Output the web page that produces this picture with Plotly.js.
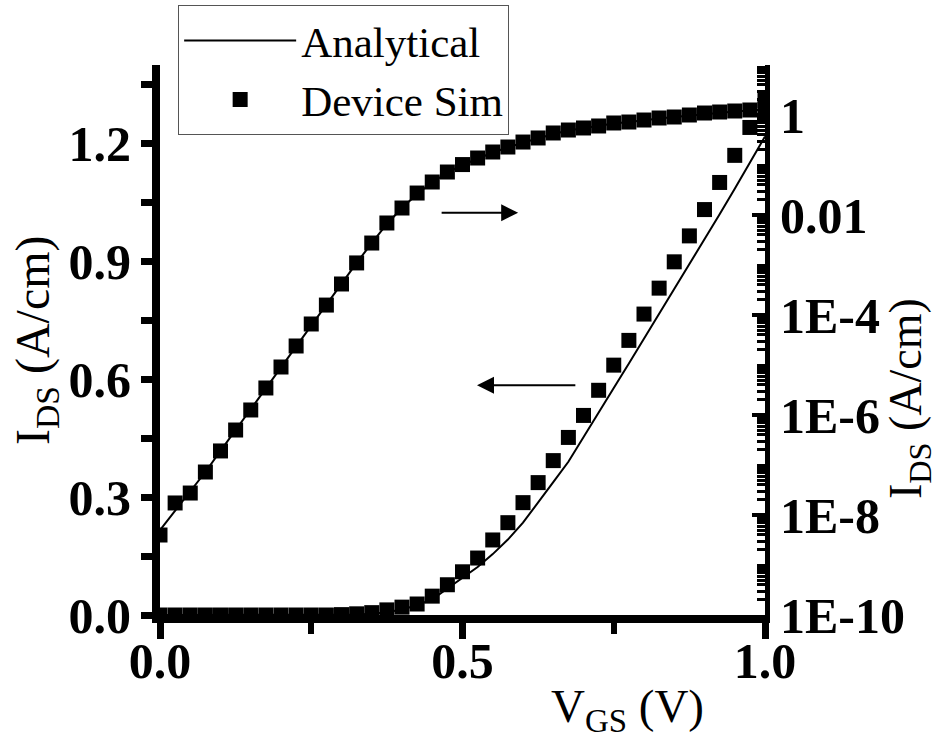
<!DOCTYPE html>
<html>
<head>
<meta charset="utf-8">
<script src="https://cdn.plot.ly/plotly-3.0.1.min.js"></script>
<style>html,body{margin:0;padding:0;background:#fff;}</style>
</head>
<body>
<div id="chart" style="width:937px;height:740px;"></div>
<script>
// Gate voltage (V)
const vgs = [0,0.025,0.05,0.075,0.1,0.125,0.15,0.175,0.2,0.225,0.25,0.275,0.3,0.325,0.35,0.375,0.4,0.425,0.45,0.475,0.5,0.525,0.55,0.575,0.6,0.625,0.65,0.675,0.7,0.725,0.75,0.775,0.8,0.825,0.85,0.875,0.9,0.925,0.95,0.975,1.0];

// Device simulation, linear scale (A/cm) - left axis
const simLin = [0,0,0,0,0,0,0,0,0,0,0,0,0.001,0.003,0.006,0.013,0.02,0.028,0.048,0.077,0.110,0.145,0.191,0.235,0.286,0.337,0.393,0.452,0.508,0.572,0.636,0.699,0.766,0.832,0.899,0.965,1.032,1.101,1.170,1.241,1.31];

// Analytical, linear scale (A/cm) - left axis
const anaLin = [0,0,0,0,0,0,0,0,0,0,0,0,0.0005,0.001,0.003,0.007,0.014,0.025,0.040,0.068,0.095,0.122,0.155,0.192,0.235,0.285,0.338,0.39,0.453,0.518,0.578,0.640,0.703,0.767,0.830,0.892,0.955,1.020,1.085,1.151,1.218];

// Device simulation, log scale (A/cm) - right axis
const simLog = [3.98e-9,1.74e-8,2.75e-8,7.24e-8,1.91e-7,5.01e-7,1.26e-6,3.47e-6,9.12e-6,2.40e-5,6.61e-5,1.58e-4,4.17e-4,1.10e-3,2.75e-3,6.92e-3,1.38e-2,2.75e-2,4.57e-2,7.24e-2,0.102,0.138,0.182,0.229,0.288,0.347,0.437,0.501,0.550,0.603,0.692,0.724,0.794,0.871,0.912,1.0,1.096,1.148,1.202,1.259,1.318];

// Analytical, log scale (A/cm) - right axis
const anaLog = [5.01e-9,1.20e-8,2.88e-8,7.24e-8,1.91e-7,5.01e-7,1.29e-6,3.47e-6,9.12e-6,2.40e-5,6.31e-5,1.58e-4,4.17e-4,1.10e-3,2.75e-3,6.61e-3,1.38e-2,2.63e-2,4.47e-2,7.08e-2,0.100,0.135,0.178,0.224,0.282,0.339,0.417,0.490,0.550,0.603,0.676,0.724,0.794,0.851,0.912,0.977,1.047,1.122,1.175,1.230,1.288];

const xTickVals = [0, 0.5, 1.0];
const xTickText = ['0.0', '0.5', '1.0'];
const logTickVals = [1e-10, 1e-8, 1e-6, 1e-4, 0.01, 1];
const logTickText = ['1E-10', '1E-8', '1E-6', '1E-4', '0.01', '1'];

const FONT = 'Liberation Serif, Times New Roman, serif';

const traces = [
  {x: vgs, y: anaLin, type: 'scatter', mode: 'lines', name: 'Analytical',
   line: {color: '#000', width: 2}, yaxis: 'y', legendrank: 1},
  {x: vgs, y: anaLog, type: 'scatter', mode: 'lines', name: 'Analytical',
   line: {color: '#000', width: 2}, yaxis: 'y2', showlegend: false},
  {x: vgs, y: simLin, type: 'scatter', mode: 'markers', name: 'Device Sim',
   marker: {symbol: 'square', size: 15, color: '#000', line: {width: 0}}, yaxis: 'y', legendrank: 2},
  {x: vgs, y: simLog, type: 'scatter', mode: 'markers', name: 'Device Sim',
   marker: {symbol: 'square', size: 15, color: '#000', line: {width: 0}}, yaxis: 'y2', showlegend: false},
  // carrier for the tick-label-only x axis
  {x: [], y: [], type: 'scatter', mode: 'markers', xaxis: 'x2', yaxis: 'y', showlegend: false, hoverinfo: 'skip'}
];

const layout = {
  width: 937, height: 740,
  margin: {l: 160, r: 172, t: 65, b: 125, pad: 0, autoexpand: false},
  paper_bgcolor: '#fff', plot_bgcolor: '#fff',
  font: {family: FONT, color: '#000'},
  showlegend: true,
  legend: {
    x: 0.03, y: 1.109, xanchor: 'left', yanchor: 'top',
    bgcolor: 'rgba(255,255,255,1)', bordercolor: '#555', borderwidth: 1,
    font: {family: FONT, size: 43, color: '#000'},
    itemwidth: 112, tracegroupgap: 0
  },
  xaxis: {
    range: [0, 1], showgrid: false, zeroline: false,
    showline: true, linecolor: '#000', linewidth: 8,
    ticks: 'outside', ticklen: 16, tickwidth: 7, tickcolor: '#000',
    tickmode: 'array', tickvals: xTickVals, showticklabels: false,
    minor: {tickmode: 'array', tickvals: [0.25, 0.75], ticks: 'outside', ticklen: 11, tickwidth: 6, tickcolor: '#000', showgrid: false},
    fixedrange: true
  },
  xaxis2: {
    range: [0, 1], overlaying: 'x', anchor: 'y', side: 'bottom',
    showgrid: false, zeroline: false, showline: false, ticks: '',
    tickmode: 'array', tickvals: xTickVals, ticktext: xTickText,
    ticklabelstandoff: 12,
    tickfont: {family: FONT, size: 50, weight: 'bold', color: '#000'},
    fixedrange: true
  },
  yaxis: {
    range: [0, 1.4], showgrid: false, zeroline: false,
    showline: true, linecolor: '#000', linewidth: 8,
    ticks: 'outside', ticklen: 11, tickwidth: 7, tickcolor: '#000',
    tickmode: 'linear', tick0: 0, dtick: 0.3, tickformat: '.1f',
    tickfont: {family: FONT, size: 50, weight: 'bold', color: '#000'},
    minor: {tickmode: 'linear', tick0: 0, dtick: 0.15, ticks: 'outside', ticklen: 11, tickwidth: 7, tickcolor: '#000', showgrid: false},
    fixedrange: true
  },
  yaxis2: {
    type: 'log', range: [-10, 1], overlaying: 'y', side: 'right',
    showgrid: false, zeroline: false,
    showline: true, linecolor: '#000', linewidth: 5,
    ticks: 'inside', ticklen: 13, tickwidth: 4, tickcolor: '#000',
    tickmode: 'array', tickvals: logTickVals, ticktext: logTickText,
    tickfont: {family: FONT, size: 50, weight: 'bold', color: '#000'},
    minor: {dtick: 'D1', ticks: 'inside', ticklen: 8, tickwidth: 3, tickcolor: '#000', showgrid: false},
    fixedrange: true
  },
  annotations: [
    {xref: 'paper', yref: 'paper', x: -0.205, y: 0.5, xanchor: 'center', yanchor: 'middle',
     text: 'I<sub>DS</sub> (A/cm)', textangle: -90, showarrow: false,
     font: {family: FONT, size: 48, color: '#000'}},
    {xref: 'paper', yref: 'paper', x: 1.238, y: 0.3945, xanchor: 'center', yanchor: 'middle',
     text: 'I<sub>DS</sub> (A/cm)', textangle: -90, showarrow: false,
     font: {family: FONT, size: 46, color: '#000'}},
    {xref: 'paper', yref: 'paper', x: 0.772, y: -0.1727, xanchor: 'center', yanchor: 'middle',
     text: 'V<sub>GS</sub> (V)', showarrow: false,
     font: {family: FONT, size: 47, color: '#000'}},
    {xref: 'x', yref: 'y', axref: 'x', ayref: 'y', x: 0.592, y: 1.024, ax: 0.463, ay: 1.024,
     text: '', showarrow: true, arrowhead: 2, arrowsize: 1.7, arrowwidth: 2, arrowcolor: '#000'},
    {xref: 'x', yref: 'y', axref: 'x', ayref: 'y', x: 0.524, y: 0.585, ax: 0.689, ay: 0.585,
     text: '', showarrow: true, arrowhead: 2, arrowsize: 1.7, arrowwidth: 2, arrowcolor: '#000'}
  ]
};

Plotly.newPlot('chart', traces, layout, {staticPlot: true, displayModeBar: false});
</script>
</body>
</html>
